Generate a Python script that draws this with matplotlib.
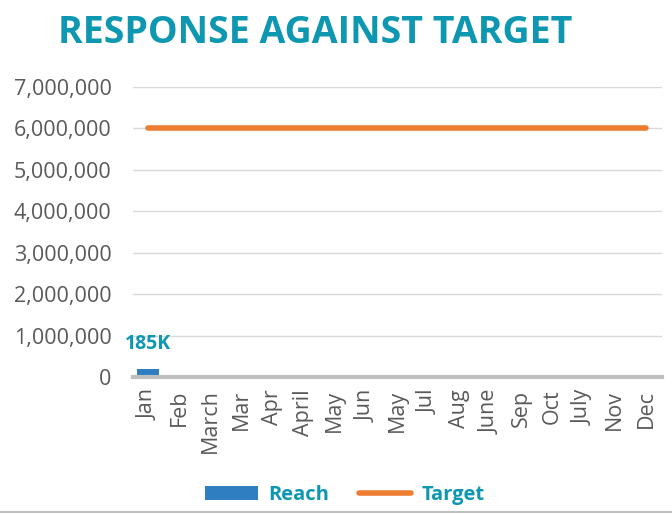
import matplotlib
matplotlib.use("Agg")
import matplotlib.pyplot as plt
from matplotlib.lines import Line2D
from matplotlib.patches import Patch
from matplotlib.ticker import FuncFormatter

categories = ["Jan", "Feb", "March", "Mar", "Apr", "April", "May", "Jun", "May",
              "Jul", "Aug", "June", "Sep", "Oct", "July", "Nov", "Dec"]
reach = [185000] + [0] * 16
target = [6000000] * 17
reach_label = "185K"

teal = "#0E97B0"
blue = "#2E7EC1"
orange = "#ED7D31"
gray = "#595959"

plt.rcParams['font.family'] = ['Open Sans', 'DejaVu Sans']

fig = plt.figure(figsize=(6.72, 5.14), dpi=100)
ax = fig.add_axes([132.5/672, 1 - 377/514, (661.5-132.5)/672, (377-87)/514])

x = list(range(len(categories)))
ax.bar(x, reach, width=0.68, color=blue, zorder=3)
ax.plot(x, target, color=orange, linewidth=4, solid_capstyle='round', zorder=4)

ax.set_xlim(-0.5, len(categories) - 0.5)
ax.set_ylim(0, 7000000)
ax.set_yticks(range(0, 7000001, 1000000))
ax.yaxis.set_major_formatter(FuncFormatter(lambda v, p: f"{int(v):,}"))
ax.set_xticks(x)
ax.set_xticklabels(categories, rotation=90)
ax.tick_params(axis='y', length=0, labelsize=15.5, labelcolor=gray, pad=15)
ax.tick_params(axis='x', length=0, labelsize=15.5, labelcolor=gray, pad=9)
ax.grid(axis='y', color="#D9D9D9", linewidth=1, zorder=0)
for s in ['top', 'right', 'left']:
    ax.spines[s].set_visible(False)
ax.spines['bottom'].set_color("#BFBFBF")
ax.spines['bottom'].set_linewidth(3)
ax.spines['bottom'].set_zorder(5)

ax.annotate(reach_label, (x[0], reach[0]), xytext=(0, 11), textcoords='offset points',
            ha='center', va='bottom', color=teal, fontsize=14, fontweight='bold')

fig.text(315/672, 1 - 33/514, "RESPONSE AGAINST TARGET", ha='center', va='center',
         color=teal, fontsize=27, fontweight='bold')

handles = [Patch(facecolor=blue, label="Reach"),
           Line2D([0], [0], color=orange, linewidth=4, solid_capstyle='round', label="Target")]
leg = fig.legend(handles=handles, loc='center', bbox_to_anchor=(345/672, 1 - 495/514), ncol=2,
                 frameon=False, fontsize=14.5, handlelength=2.6, handleheight=0.7,
                 columnspacing=1.5, handletextpad=0.5)
for t in leg.get_texts():
    t.set_color(teal)
    t.set_fontweight('bold')

fig.add_artist(Line2D([0, 1], [1 - 512/514, 1 - 512/514], color="#BFBFBF", linewidth=1.5,
                      transform=fig.transFigure))

fig.savefig("out.png", dpi=100)
